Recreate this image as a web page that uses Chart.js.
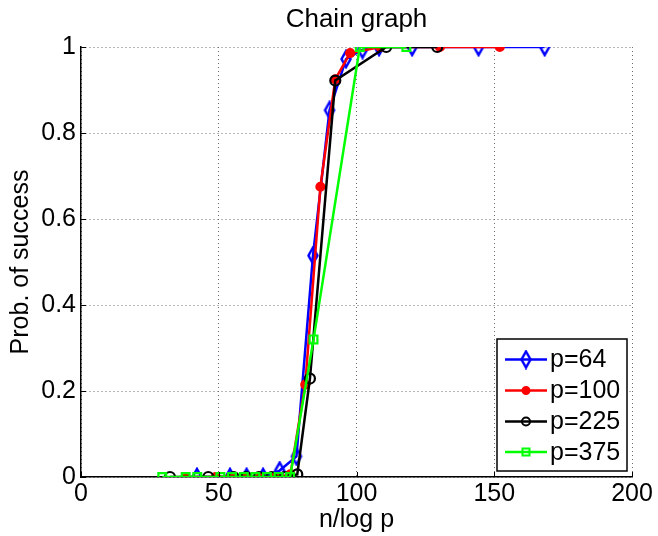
<!DOCTYPE html>
<html><head><meta charset="utf-8">
<script src="https://cdn.jsdelivr.net/npm/chart.js@4/dist/chart.umd.min.js"></script>
<style>html,body{margin:0;padding:0;background:#fff;}#wrap{width:658px;height:536px;position:relative;}</style>
</head><body><div id="wrap"><canvas id="c" width="658" height="536"></canvas></div>
<script>
const chartTitle = 'Chain graph';
const xTitle = 'n/log p';
const yTitle = 'Prob. of success';
const seriesLabels = ['p=64', 'p=100', 'p=225', 'p=375'];
const xTicks = [0, 50, 100, 150, 200];
const yTicks = [0, 0.2, 0.4, 0.6, 0.8, 1];
const yTickLabels = ['0', '0.2', '0.4', '0.6', '0.8', '1'];

const x64 = [42.1, 54.1, 60.1, 66.1, 72.1, 78.2, 84.2, 90.2, 96.2, 102.2, 108.2, 120.2, 144.3, 168.3];
const y64 = [0, 0, 0, 0, 0.015, 0.048, 0.515, 0.853, 0.972, 0.994, 1, 1, 1, 1];
const x100 = [38.0, 48.9, 54.3, 59.7, 65.1, 70.6, 76.0, 81.4, 86.9, 92.3, 97.7, 108.6, 130.3, 152.0];
const y100 = [0, 0, 0, 0, 0, 0, 0.006, 0.215, 0.675, 0.925, 0.986, 1, 1, 1];
const x225 = [32.3, 46.2, 55.4, 60.0, 64.6, 69.2, 73.9, 78.5, 83.1, 92.3, 110.8, 129.3];
const y225 = [0, 0, 0, 0, 0, 0, 0, 0.006, 0.229, 0.922, 1, 1];
const x375 = [29.5, 38.0, 42.2, 50.6, 54.8, 59.1, 63.3, 67.5, 71.7, 75.9, 84.4, 101.2, 118.1];
const y375 = [0, 0, 0, 0, 0, 0, 0, 0, 0, 0, 0.32, 1, 1];

const FONT = "'Liberation Sans', Arial, Helvetica, sans-serif";
const FSIZE = 25;

function pts(xs, ys) { return xs.map((x, i) => ({ x: x, y: ys[i] })); }

// hollow diamond marker (MATLAB style 'd')
function makeDiamond(color) {
  const c = document.createElement('canvas');
  c.width = 14; c.height = 20;
  const g = c.getContext('2d');
  g.strokeStyle = color; g.lineWidth = 2.5;
  g.beginPath();
  g.moveTo(7, 2); g.lineTo(11.5, 10); g.lineTo(7, 18); g.lineTo(2.5, 10); g.closePath();
  g.stroke();
  return c;
}
const diamond = makeDiamond('#0000ff');

const series = [
  { label: seriesLabels[0], data: pts(x64, y64), color: '#0000ff', style: diamond, radius: 7, fill: 'rgba(0,0,0,0)', order: 3 },
  { label: seriesLabels[1], data: pts(x100, y100), color: '#ff0000', style: 'circle', radius: 4, fill: '#ff0000', order: 2 },
  { label: seriesLabels[2], data: pts(x225, y225), color: '#000000', style: 'circle', radius: 5, fill: 'rgba(0,0,0,0)', order: 1 },
  { label: seriesLabels[3], data: pts(x375, y375), color: '#00ff00', style: 'rect', radius: 5.5, fill: 'rgba(0,0,0,0)', order: 0 }
];

const PLOT = { left: 81, right: 632, top: 47, bottom: 477 };

const matlabPlugin = {
  id: 'matlab',
  afterDatasetsDraw(chart) {
    const ctx = chart.ctx;
    const xs = chart.scales.x, ys = chart.scales.y;
    ctx.save();
    // title centred over the plot area
    ctx.fillStyle = '#000';
    ctx.font = '26px ' + FONT;
    ctx.textAlign = 'center'; ctx.textBaseline = 'alphabetic';
    ctx.fillText(chartTitle, (xs.left + xs.right) / 2, 27);
    ctx.strokeStyle = '#000';
    ctx.lineWidth = 1;
    // inward ticks on left and bottom axes
    xTicks.forEach(v => {
      const px = Math.round(xs.getPixelForValue(v)) + 0.5;
      ctx.beginPath(); ctx.moveTo(px, ys.bottom); ctx.lineTo(px, ys.bottom - 5); ctx.stroke();
    });
    yTicks.forEach(v => {
      const py = Math.round(ys.getPixelForValue(v)) + 0.5;
      ctx.beginPath(); ctx.moveTo(xs.left, py); ctx.lineTo(xs.left + 5, py); ctx.stroke();
    });
    // legend box
    const bx = 497, by = 339, bw = 130, bh = 132;
    ctx.fillStyle = '#fff';
    ctx.fillRect(bx, by, bw, bh);
    ctx.lineWidth = 1.5;
    ctx.strokeStyle = '#000';
    ctx.strokeRect(bx, by, bw, bh);
    const rowY = [359.5, 390.5, 421.5, 452];
    series.forEach((s, i) => {
      const y = rowY[i];
      ctx.strokeStyle = s.color; ctx.lineWidth = 2.5;
      ctx.beginPath(); ctx.moveTo(505, y); ctx.lineTo(547, y); ctx.stroke();
      const mx = 526;
      ctx.lineWidth = 2;
      if (s.style === diamond) {
        ctx.drawImage(diamond, mx - 7, y - 10);
      } else if (s.style === 'circle') {
        ctx.beginPath(); ctx.arc(mx, y, s.radius === 4 ? 3.5 : 4, 0, Math.PI * 2);
        if (s.fill !== 'rgba(0,0,0,0)') { ctx.fillStyle = s.fill; ctx.fill(); }
        ctx.stroke();
      } else {
        ctx.strokeRect(mx - 3.5, y - 3.5, 7, 7);
      }
      ctx.fillStyle = '#000';
      ctx.font = FSIZE + 'px ' + FONT;
      ctx.textAlign = 'left'; ctx.textBaseline = 'middle';
      ctx.fillText(s.label, 550, y + 1);
    });
    ctx.restore();
  }
};

const chart = new Chart(document.getElementById('c'), {
  type: 'line',
  data: {
    datasets: series.map(s => ({
      label: s.label,
      data: s.data,
      borderColor: s.color,
      backgroundColor: s.fill,
      borderWidth: 2.5,
      pointStyle: s.style,
      pointRadius: s.radius,
      pointBorderWidth: 2.2,
      pointBackgroundColor: s.fill,
      pointBorderColor: s.color,
      tension: 0,
      fill: false,
      order: s.order
    }))
  },
  options: {
    responsive: false,
    animation: false,
    devicePixelRatio: 1,
    layout: { padding: { left: 0, right: 658 - PLOT.right, top: PLOT.top, bottom: 0 } },
    plugins: {
      legend: { display: false },
      tooltip: { enabled: false },
      title: { display: false }
    },
    scales: {
      x: {
        type: 'linear', min: 0, max: 200,
        afterBuildTicks(scale) { scale.ticks = xTicks.map(v => ({ value: v })); },
        afterFit(scale) { scale.height = 536 - PLOT.bottom; },
        grid: { color: '#6e6e6e', lineWidth: 1, drawTicks: false },
        border: { display: true, color: '#000', width: 1.5, dash: [1, 3] },
        ticks: { color: '#000', font: { family: FONT, size: FSIZE }, padding: 2, maxRotation: 0 },
        title: { display: true, text: xTitle, color: '#000', font: { family: FONT, size: FSIZE }, padding: { top: 0, bottom: 1 } }
      },
      y: {
        type: 'linear', min: 0, max: 1,
        afterBuildTicks(scale) { scale.ticks = yTicks.map(v => ({ value: v })); },
        afterFit(scale) { scale.width = PLOT.left; },
        grid: { color: '#6e6e6e', lineWidth: 1, drawTicks: false },
        border: { display: true, color: '#000', width: 1.5, dash: [1, 3] },
        ticks: {
          color: '#000', font: { family: FONT, size: FSIZE }, padding: 5,
          callback: (v) => { const i = yTicks.indexOf(v); return i >= 0 ? yTickLabels[i] : ''; }
        },
        title: { display: true, text: yTitle, color: '#000', font: { family: FONT, size: FSIZE }, padding: { top: 6, bottom: 0 } }
      }
    }
  },
  plugins: [matlabPlugin]
});
</script>
</body></html>
